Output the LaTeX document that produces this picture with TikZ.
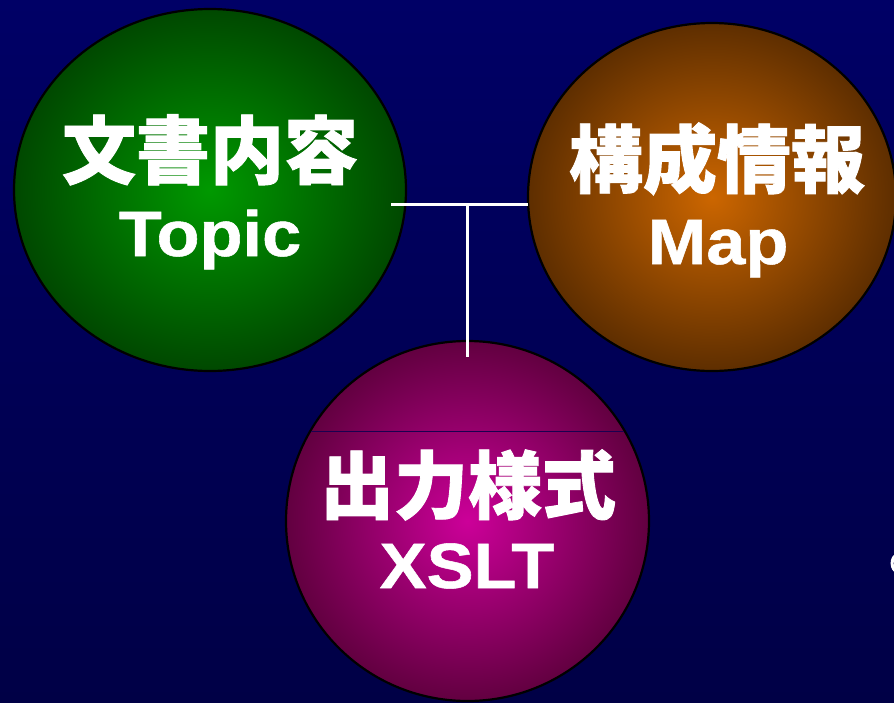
\documentclass[tikz,border=0pt]{standalone}
\usepackage{fontspec}
\usepackage{graphicx}
\setmainfont[BoldFeatures={FakeBold=0.8}]{Liberation Sans}
\newfontfamily\cjk[BoldFeatures={FakeBold=1.2}]{Noto Sans CJK JP}
\newcommand{\widetext}[1]{\scalebox{1.1}[1]{#1}}
\usetikzlibrary{shapes.geometric}
\definecolor{bgtop}{HTML}{000066}
\definecolor{bgbot}{HTML}{000046}
\definecolor{gin}{HTML}{009900}
\definecolor{gout}{HTML}{004800}
\definecolor{oin}{HTML}{CC6600}
\definecolor{oout}{HTML}{5E2E00}
\definecolor{min}{HTML}{CC0099}
\definecolor{mout}{HTML}{620040}
\definecolor{chord}{HTML}{1A0050}
\tikzset{
  blob/.style={ellipse, draw=black, line width=2.2pt, inner sep=0pt, shade},
  cjklabel/.style={text=white, anchor=base, inner sep=0pt, font=\cjk\bfseries\fontsize{74}{74}\selectfont},
  latlabel/.style={text=white, anchor=base, inner sep=0pt, font=\rmfamily\bfseries\fontsize{64}{64}\selectfont},
  tline/.style={white, line width=3pt}
}
\begin{document}
\begin{tikzpicture}[x=1pt,y=-1pt]
\useasboundingbox (0,0) rectangle (894,702);
\shade[top color=bgtop, bottom color=bgbot] (0,0) rectangle (894,702);
% ellipses
\node[blob, inner color=gin, outer color=gout, minimum width=392pt, minimum height=362pt] (topic) at (210,190) {};
\node[blob, inner color=oin, outer color=oout, minimum width=368pt, minimum height=348pt] (map) at (712,197) {};
\node[blob, inner color=min, outer color=mout, minimum width=363pt, minimum height=360pt] (xslt) at (467.5,521) {};
% chord across the lower ellipse
\begin{scope}
  \clip (467.5,521) ellipse (180.5pt and 179pt);
  \draw[chord, line width=1pt] (280,431.5) -- (660,431.5);
\end{scope}
% labels
\node[cjklabel] (t1) at (210,178) {文書内容};
\node[latlabel] (t2) at (210,256) {\widetext{Topic}};
\node[cjklabel] (m1) at (717,187) {構成情報};
\node[latlabel] (m2) at (718,264) {\widetext{Map}};
\node[cjklabel] (x1) at (468,513) {出力様式};
\node[latlabel] (x2) at (467,588) {\widetext{XSLT}};
% connectors
\coordinate (tl) at (391,204);
\coordinate (tr) at (528,204);
\coordinate (tj) at (467.5,204);
\coordinate (tb) at (467.5,357);
\draw[tline] (tl) -- (tr);
\draw[tline] (tj) -- (tb);
% cut-off mark at right edge
\draw[white, line width=3pt] (895,556) arc[start angle=115, end angle=245, x radius=5pt, y radius=8pt];
\end{tikzpicture}
\end{document}
